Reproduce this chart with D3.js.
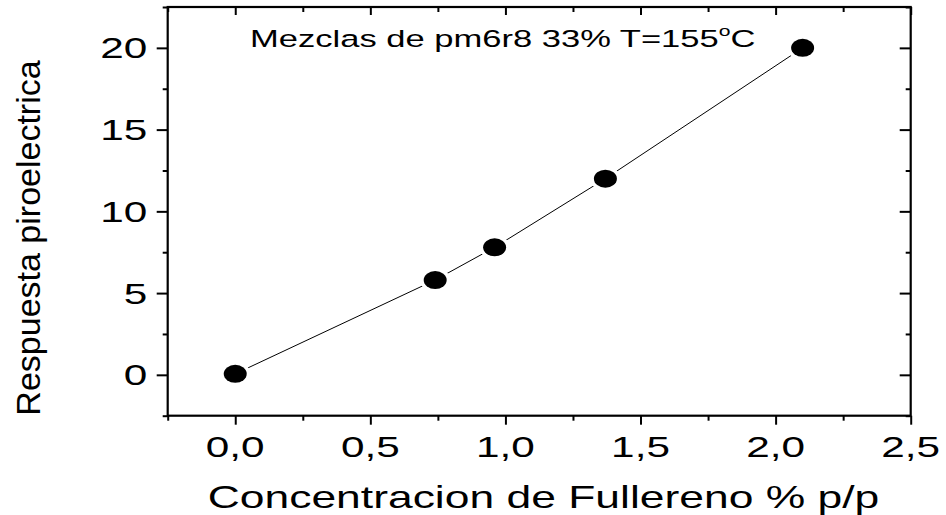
<!DOCTYPE html>
<html>
<head>
<meta charset="utf-8">
<script src="https://cdn.jsdelivr.net/npm/d3@7"></script>
<style>
  html, body { margin: 0; padding: 0; background: #fff; }
  svg { display: block; }
  text { font-family: "Liberation Sans", Arial, sans-serif; fill: #000; }
</style>
</head>
<body>
<svg id="chart" width="946" height="515"></svg>
<script>
// Fullerene concentration (% p/p) and pyroelectric response
const concentration = [0.0, 0.74, 0.96, 1.37, 2.1];
const response = [0.06, 5.8, 7.8, 12.0, 20.0];

const xMajorTicks = [0.0, 0.5, 1.0, 1.5, 2.0, 2.5];
const xMinorTicks = [-0.25, 0.25, 0.75, 1.25, 1.75, 2.25];
const yMajorTicks = [0, 5, 10, 15, 20];
const yMinorTicks = [-2.5, 2.5, 7.5, 12.5, 17.5, 22.5];

const xTitle = "Concentracion de Fullereno % p/p";
const yTitle = "Respuesta piroelectrica";
const noteMain = "Mezclas de pm6r8 33% T=155";

const fmt = d => d3.format(".1f")(d).replace(".", ",");

const svg = d3.select("#chart");
const box = { left: 167.7, right: 910.7, top: 7, bottom: 415.7 };
const stretch = 1.41; // horizontal glyph stretch

const x = d3.scaleLinear().domain([-0.25, 2.5]).range([box.left, box.right]);
const y = d3.scaleLinear().domain([-2.5, 22.5]).range([box.bottom, box.top]);

// Stretched text helper
function label(g, px, py, str, size, anchor) {
  return g.append("text")
    .attr("transform", `translate(${px},${py}) scale(${stretch},1)`)
    .attr("text-anchor", anchor)
    .style("font-size", size + "px")
    .text(str);
}

// Axes with D3 tick generators
const axW = 2;
function styleAxis(g) {
  g.select(".domain").remove();
  g.selectAll(".tick line").attr("stroke", "#000").attr("stroke-width", axW);
  g.selectAll(".tick text").remove();
}

// bottom (outward)
svg.append("g").attr("transform", `translate(0,${box.bottom})`)
  .call(d3.axisBottom(x).tickValues(xMajorTicks).tickSize(9)).call(styleAxis);
svg.append("g").attr("transform", `translate(0,${box.bottom})`)
  .call(d3.axisBottom(x).tickValues(xMinorTicks).tickSize(5)).call(styleAxis);
// top (inward)
svg.append("g").attr("transform", `translate(0,${box.top})`)
  .call(d3.axisBottom(x).tickValues(xMajorTicks).tickSize(8)).call(styleAxis);
svg.append("g").attr("transform", `translate(0,${box.top})`)
  .call(d3.axisBottom(x).tickValues(xMinorTicks).tickSize(5)).call(styleAxis);
// left (outward)
svg.append("g").attr("transform", `translate(${box.left},0)`)
  .call(d3.axisLeft(y).tickValues(yMajorTicks).tickSize(11)).call(styleAxis);
svg.append("g").attr("transform", `translate(${box.left},0)`)
  .call(d3.axisLeft(y).tickValues(yMinorTicks).tickSize(5)).call(styleAxis);
// right (inward)
svg.append("g").attr("transform", `translate(${box.right},0)`)
  .call(d3.axisLeft(y).tickValues(yMajorTicks).tickSize(11)).call(styleAxis);
svg.append("g").attr("transform", `translate(${box.right},0)`)
  .call(d3.axisLeft(y).tickValues(yMinorTicks).tickSize(5)).call(styleAxis);

// frame
svg.append("rect")
  .attr("x", box.left).attr("y", box.top)
  .attr("width", box.right - box.left).attr("height", box.bottom - box.top)
  .attr("fill", "none").attr("stroke", "#000").attr("stroke-width", 2.2);

// tick labels
const labels = svg.append("g");
xMajorTicks.forEach(t => label(labels, x(t), 456.5, fmt(t), 30, "middle"));
yMajorTicks.forEach(t => label(labels, 147.3, y(t) + 10.5, String(t), 30, "end"));

// titles
label(svg, 543.5, 508, xTitle, 31.5, "middle");
svg.append("text")
  .attr("transform", `translate(40,${238}) rotate(-90)`)
  .attr("text-anchor", "middle")
  .style("font-size", "34px")
  .text(yTitle);

// annotation with superscript degree
const note = svg.append("text")
  .attr("transform", `translate(250,47) scale(${stretch},1)`)
  .attr("text-anchor", "start")
  .style("font-size", "24.5px");
note.append("tspan").text(noteMain);
note.append("tspan").attr("dy", -11).style("font-size", "15px").text("o");
note.append("tspan").attr("dy", 11).text("C");

// data line
const pts = concentration.map((c, i) => [c, response[i]]);
svg.append("path")
  .datum(pts)
  .attr("fill", "none")
  .attr("stroke", "#000")
  .attr("stroke-width", 1)
  .attr("d", d3.line().x(d => x(d[0])).y(d => y(d[1])));

// markers with a small white gap around them
const marks = svg.append("g");
marks.selectAll("ellipse.gap").data(pts).join("ellipse")
  .attr("class", "gap")
  .attr("cx", d => x(d[0])).attr("cy", d => y(d[1]))
  .attr("rx", 15).attr("ry", 12.5).attr("fill", "#fff");
marks.selectAll("ellipse.dot").data(pts).join("ellipse")
  .attr("class", "dot")
  .attr("cx", d => x(d[0])).attr("cy", d => y(d[1]))
  .attr("rx", 11.5).attr("ry", 9).attr("fill", "#000");
</script>
</body>
</html>
